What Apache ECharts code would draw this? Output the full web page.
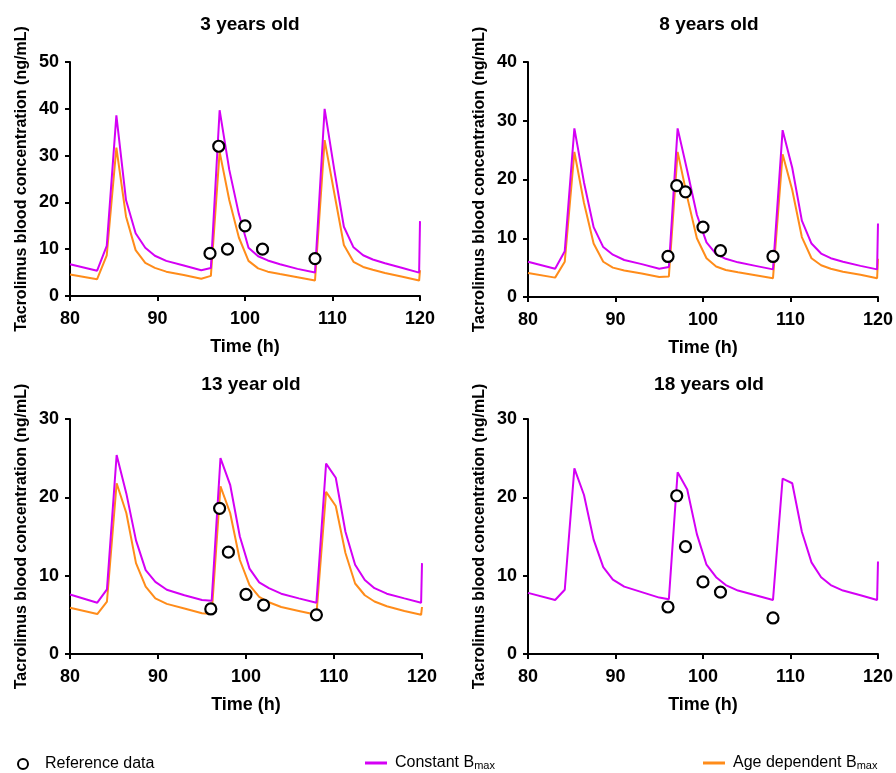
<!DOCTYPE html>
<html>
<head>
<meta charset="utf-8">
<script src="https://cdn.jsdelivr.net/npm/echarts@6/dist/echarts.min.js"></script>
<style>
  html, body { margin: 0; padding: 0; background: #fff; }
  #chart { width: 896px; height: 773px; }
</style>
</head>
<body>
<div id="chart"></div>
<script>
// simulation time grid (h)
const timeH = [80, 83.1, 84.2, 85.3, 86.4, 87.5, 88.6, 89.7, 91, 93, 95, 96.1,
  97.1, 98.2, 99.3, 100.4, 101.5, 102.6, 104, 106, 108,
  109.1, 110.2, 111.3, 112.4, 113.5, 114.6, 116, 118, 119.9, 120];

const panelTitles = ["3 years old", "8 years old", "13 year old", "18 years old"];
const yMax = [50, 40, 30, 30];

// Constant Bmax simulations
const constBmax3 = [6.8, 5.4, 10.7, 38.6, 20.5, 13.4, 10.3, 8.6, 7.5, 6.5, 5.5, 6.0,
  39.7, 27, 17.5, 10.3, 8.5, 7.6, 6.8, 5.8, 5.0,
  40, 27, 14.8, 10.4, 8.7, 7.8, 7.0, 6.0, 5.0, 16];
const constBmax8 = [6.0, 4.8, 7.8, 28.7, 19.5, 11.9, 8.5, 7.2, 6.3, 5.6, 4.8, 5.1,
  28.7, 21.5, 14, 9.3, 7.3, 6.5, 5.9, 5.3, 4.7,
  28.4, 22, 13, 9.1, 7.4, 6.6, 6.0, 5.3, 4.7, 12.5];
const constBmax13 = [7.6, 6.55, 8.25, 25.4, 20.5, 14.5, 10.7, 9.2, 8.2, 7.5, 6.9, 6.8,
  25.0, 21.6, 15.0, 10.9, 9.15, 8.4, 7.7, 7.1, 6.55,
  24.3, 22.5, 15.6, 11.4, 9.45, 8.4, 7.7, 7.1, 6.55, 11.6];
const constBmax18 = [7.8, 6.9, 8.2, 23.7, 20.3, 14.6, 11.1, 9.5, 8.6, 7.9, 7.2, 7.0,
  23.2, 21.0, 15.3, 11.4, 9.8, 8.8, 8.1, 7.5, 6.9,
  22.4, 21.8, 15.6, 11.7, 9.8, 8.8, 8.1, 7.5, 6.9, 11.8];

// Age dependent Bmax simulations
const ageBmax3 = [4.6, 3.6, 8.7, 31.7, 17, 9.8, 7.1, 6.0, 5.2, 4.5, 3.7, 4.3,
  30.8, 20.5, 12.5, 7.5, 5.9, 5.2, 4.7, 4.0, 3.3,
  33.3, 22, 10.9, 7.3, 6.2, 5.6, 4.9, 4.1, 3.3, 5.5];
const ageBmax8 = [4.1, 3.3, 6.0, 24.7, 16, 9.1, 6.0, 5.0, 4.5, 4.0, 3.4, 3.5,
  24.7, 17, 10, 6.6, 5.2, 4.6, 4.2, 3.7, 3.2,
  24.3, 18.2, 10.2, 6.6, 5.4, 4.8, 4.3, 3.8, 3.2, 6.5];
const ageBmax13 = [5.9, 5.1, 6.7, 21.8, 18.0, 11.6, 8.6, 7.1, 6.4, 5.8, 5.2, 5.1,
  21.4, 18.0, 12.0, 8.8, 7.3, 6.6, 6.0, 5.5, 5.0,
  20.7, 18.9, 12.9, 9.0, 7.5, 6.7, 6.1, 5.5, 5.0, 6.0];

// Reference data
const refTimes = [96, 97, 98, 100, 102, 108];
const ref3 = [9.1, 32.0, 10.0, 15.0, 10.0, 8.0];
const ref8 = [6.9, 18.95, 17.9, 11.9, 7.9, 6.9];
const ref13 = [5.75, 18.6, 13.0, 7.6, 6.25, 5.0];
const ref18 = [6.0, 20.2, 13.7, 9.2, 7.9, 4.6];

const constSets = [constBmax3, constBmax8, constBmax13, constBmax18];
const ageSets = [ageBmax3, ageBmax8, ageBmax13, null];
const refSets = [ref3, ref8, ref13, ref18];

const MAGENTA = "#d400f5";
const ORANGE = "#ff8c1a";
const FONT = "Liberation Sans, Arial, sans-serif";

const grids = [
  { left: 70, top: 62, width: 350, height: 234 },
  { left: 528, top: 62, width: 352, height: 235 },
  { left: 70, top: 419, width: 352, height: 235 },
  { left: 528, top: 419, width: 352, height: 235 }
];

const pairs = (xs, ys) => xs.map((x, i) => [x, ys[i]]);

const axisCommon = {
  axisLine: { lineStyle: { color: "#000", width: 2 } },
  axisTick: { lineStyle: { color: "#000", width: 2 }, length: 5 },
  splitLine: { show: false }
};
const tickFont = { color: "#000", fontSize: 18, fontWeight: "bold", fontFamily: FONT };

const chart = echarts.init(document.getElementById("chart"));

const xAxis = [], yAxis = [], series = [], title = [];
grids.forEach((g, i) => {
  title.push({
    text: panelTitles[i],
    left: g.left + g.width / 2,
    top: i < 2 ? 10 : 370,
    textAlign: "center",
    textStyle: { fontSize: 19, fontWeight: "bold", color: "#000", fontFamily: FONT }
  });
  xAxis.push(Object.assign({}, axisCommon, {
    type: "value", gridIndex: i, min: 80, max: 120, interval: 10,
    name: "Time (h)", nameLocation: "middle", nameGap: 42,
    nameTextStyle: { fontSize: 18, fontWeight: "bold", color: "#000", fontFamily: FONT },
    axisLabel: Object.assign({}, tickFont, { margin: 14 })
  }));
  yAxis.push(Object.assign({}, axisCommon, {
    type: "value", gridIndex: i, min: 0, max: yMax[i], interval: 10,
    name: "Tacrolimus blood concentration (ng/mL)", nameLocation: "middle", nameGap: 40,
    nameRotate: 90,
    nameTextStyle: { fontSize: 16, fontWeight: "bold", color: "#000", fontFamily: FONT },
    axisLabel: Object.assign({}, tickFont, { margin: 11 })
  }));
  if (ageSets[i]) {
    series.push({
      name: "Age dependent Bmax", type: "line", xAxisIndex: i, yAxisIndex: i,
      data: pairs(timeH, ageSets[i]), showSymbol: false, symbol: "none",
      lineStyle: { color: ORANGE, width: 2 }, itemStyle: { color: ORANGE }, z: 2
    });
  }
  series.push({
    name: "Constant Bmax", type: "line", xAxisIndex: i, yAxisIndex: i,
    data: pairs(timeH, constSets[i]), showSymbol: false, symbol: "none",
    lineStyle: { color: MAGENTA, width: 2 }, itemStyle: { color: MAGENTA }, z: 3
  });
  series.push({
    name: "Reference data", type: "scatter", xAxisIndex: i, yAxisIndex: i,
    data: pairs(refTimes, refSets[i]), symbol: "circle", symbolSize: 11,
    itemStyle: { color: "#fff", borderColor: "#000", borderWidth: 2.2, opacity: 1 }, z: 5
  });
});

const legendText = {
  fontSize: 16, color: "#000", fontFamily: FONT,
  rich: { sub: { fontSize: 11, padding: [5, 0, 0, 0], fontFamily: FONT, color: "#000" } }
};
const fmt = (name) => name.replace("Bmax", "B{sub|max}");

const legend = [
  { data: [{ name: "Reference data", icon: "circle",
      itemStyle: { color: "#fff", borderColor: "#000", borderWidth: 2 } }],
    left: 12, top: 751, itemWidth: 10, itemHeight: 10,
    textStyle: Object.assign({}, legendText, { padding: [0, 0, 0, 12] }) },
  { data: [{ name: "Constant Bmax", icon: "rect" }], left: 360, top: 750,
    itemWidth: 22, itemHeight: 3, textStyle: Object.assign({}, legendText, { padding: [0, 0, 0, 3] }),
    formatter: fmt },
  { data: [{ name: "Age dependent Bmax", icon: "rect" }], left: 698, top: 750,
    itemWidth: 22, itemHeight: 3, textStyle: Object.assign({}, legendText, { padding: [0, 0, 0, 3] }),
    formatter: fmt }
];

chart.setOption({
  animation: false,
  backgroundColor: "#fff",
  title: title,
  legend: legend,
  grid: grids,
  xAxis: xAxis,
  yAxis: yAxis,
  series: series
});
</script>
</body>
</html>
